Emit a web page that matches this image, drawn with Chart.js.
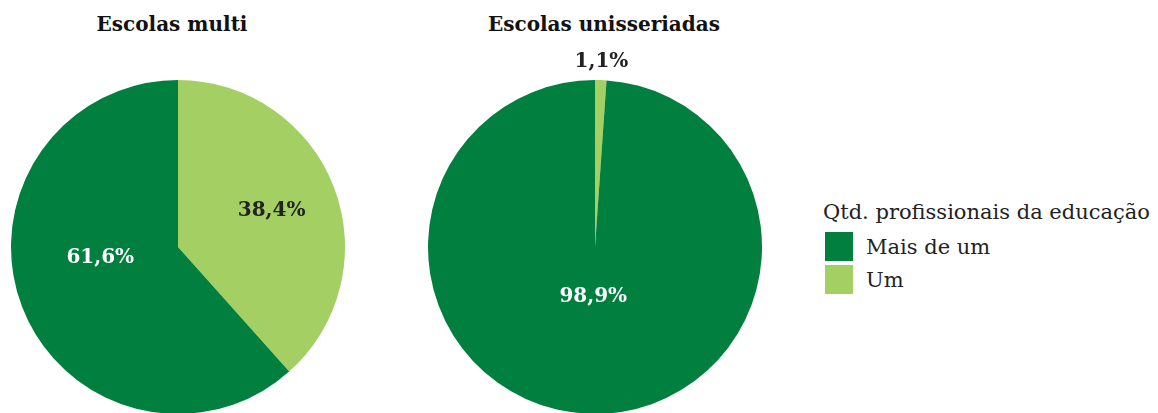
<!DOCTYPE html>
<html>
<head>
<meta charset="utf-8">
<script src="https://cdn.jsdelivr.net/npm/chart.js@4/dist/chart.umd.min.js"></script>
<style>
    body { margin: 0; width: 1158px; height: 413px; overflow: hidden; background: #fff; font-family: "DejaVu Serif", serif; position: relative; }
    .box { position: absolute; top: 0; width: 356px; height: 500px; }
    .title { position: absolute; top: 12px; width: 356px; text-align: center; font-weight: bold; font-size: 20px; color: #111; }
    #legend { position: absolute; left: 823px; top: 197px; font-size: 21px; color: #222; }
    #legend .head { height: 30px; line-height: 30px; margin-bottom: 3px; }
    #legend .row { display: flex; align-items: center; height: 33px; }
    #legend .sw { width: 28px; height: 29px; margin: 0 13px 0 2px; }
</style>
</head>
<body>
<div class="title" style="left:-6px">Escolas multi</div>
<div class="title" style="left:426px">Escolas unisseriadas</div>
<div class="box" style="left:0"><canvas id="multi" width="356" height="500"></canvas></div>
<div class="box" style="left:417px"><canvas id="uni" width="356" height="500"></canvas></div>
<div id="legend"></div>
<script>
"use strict";

const categories = ["Um", "Mais de um"];
const legendOrder = ["Mais de um", "Um"];
const colors = {"Um": "#a4cf62", "Mais de um": "#007f3e"};
const multiValues = [38.4, 61.6];
const uniValues = [1.1, 98.9];
const legendTitle = "Qtd. profissionais da educação";

// label placement per slice: radius fraction and small angle shift (deg)
const multiLabels = [{r: 0.6, shift: 0, color: "#222"}, {r: 0.47, shift: 13, color: "#fff"}];
const uniLabels = [{r: 1.11, shift: 0, color: "#222"}, {r: 0.3, shift: 0, color: "#fff"}];

const fmt = (v) => v.toFixed(1).replace(".", ",") + "%";

const sliceLabels = {
    id: "sliceLabels",
    afterDatasetsDraw(chart, args, opts) {
        const ctx = chart.ctx;
        const meta = chart.getDatasetMeta(0);
        const data = chart.data.datasets[0].data;
        ctx.save();
        ctx.font = "bold 20px 'DejaVu Serif'";
        ctx.textAlign = "center";
        ctx.textBaseline = "middle";
        meta.data.forEach((arc, i) => {
            const p = arc.getProps(["x", "y", "startAngle", "endAngle", "outerRadius"], true);
            const cfg = opts.labels[i];
            const a = (p.startAngle + p.endAngle) / 2 + cfg.shift * Math.PI / 180;
            const r = p.outerRadius * cfg.r;
            ctx.fillStyle = cfg.color;
            ctx.fillText(fmt(data[i]), p.x + Math.cos(a) * r, p.y + Math.sin(a) * r);
        });
        ctx.restore();
    }
};

function makePie(id, values, labels) {
    return new Chart(document.getElementById(id), {
        type: "pie",
        data: {
            labels: categories,
            datasets: [{
                data: values,
                backgroundColor: categories.map(c => colors[c]),
                borderWidth: 0
            }]
        },
        options: {
            responsive: false,
            animation: false,
            layout: {padding: {top: 80, left: 11, right: 11, bottom: 86}},
            plugins: {
                legend: {display: false},
                tooltip: {enabled: false},
                sliceLabels: {labels: labels}
            }
        },
        plugins: [sliceLabels]
    });
}

makePie("multi", multiValues, multiLabels);
makePie("uni", uniValues, uniLabels);

const legend = document.getElementById("legend");
legend.innerHTML = '<div class="head">' + legendTitle + '</div>' +
    legendOrder.map(c => '<div class="row"><div class="sw" style="background:' + colors[c] + '"></div>' + c + '</div>').join("");
</script>
</body>
</html>
